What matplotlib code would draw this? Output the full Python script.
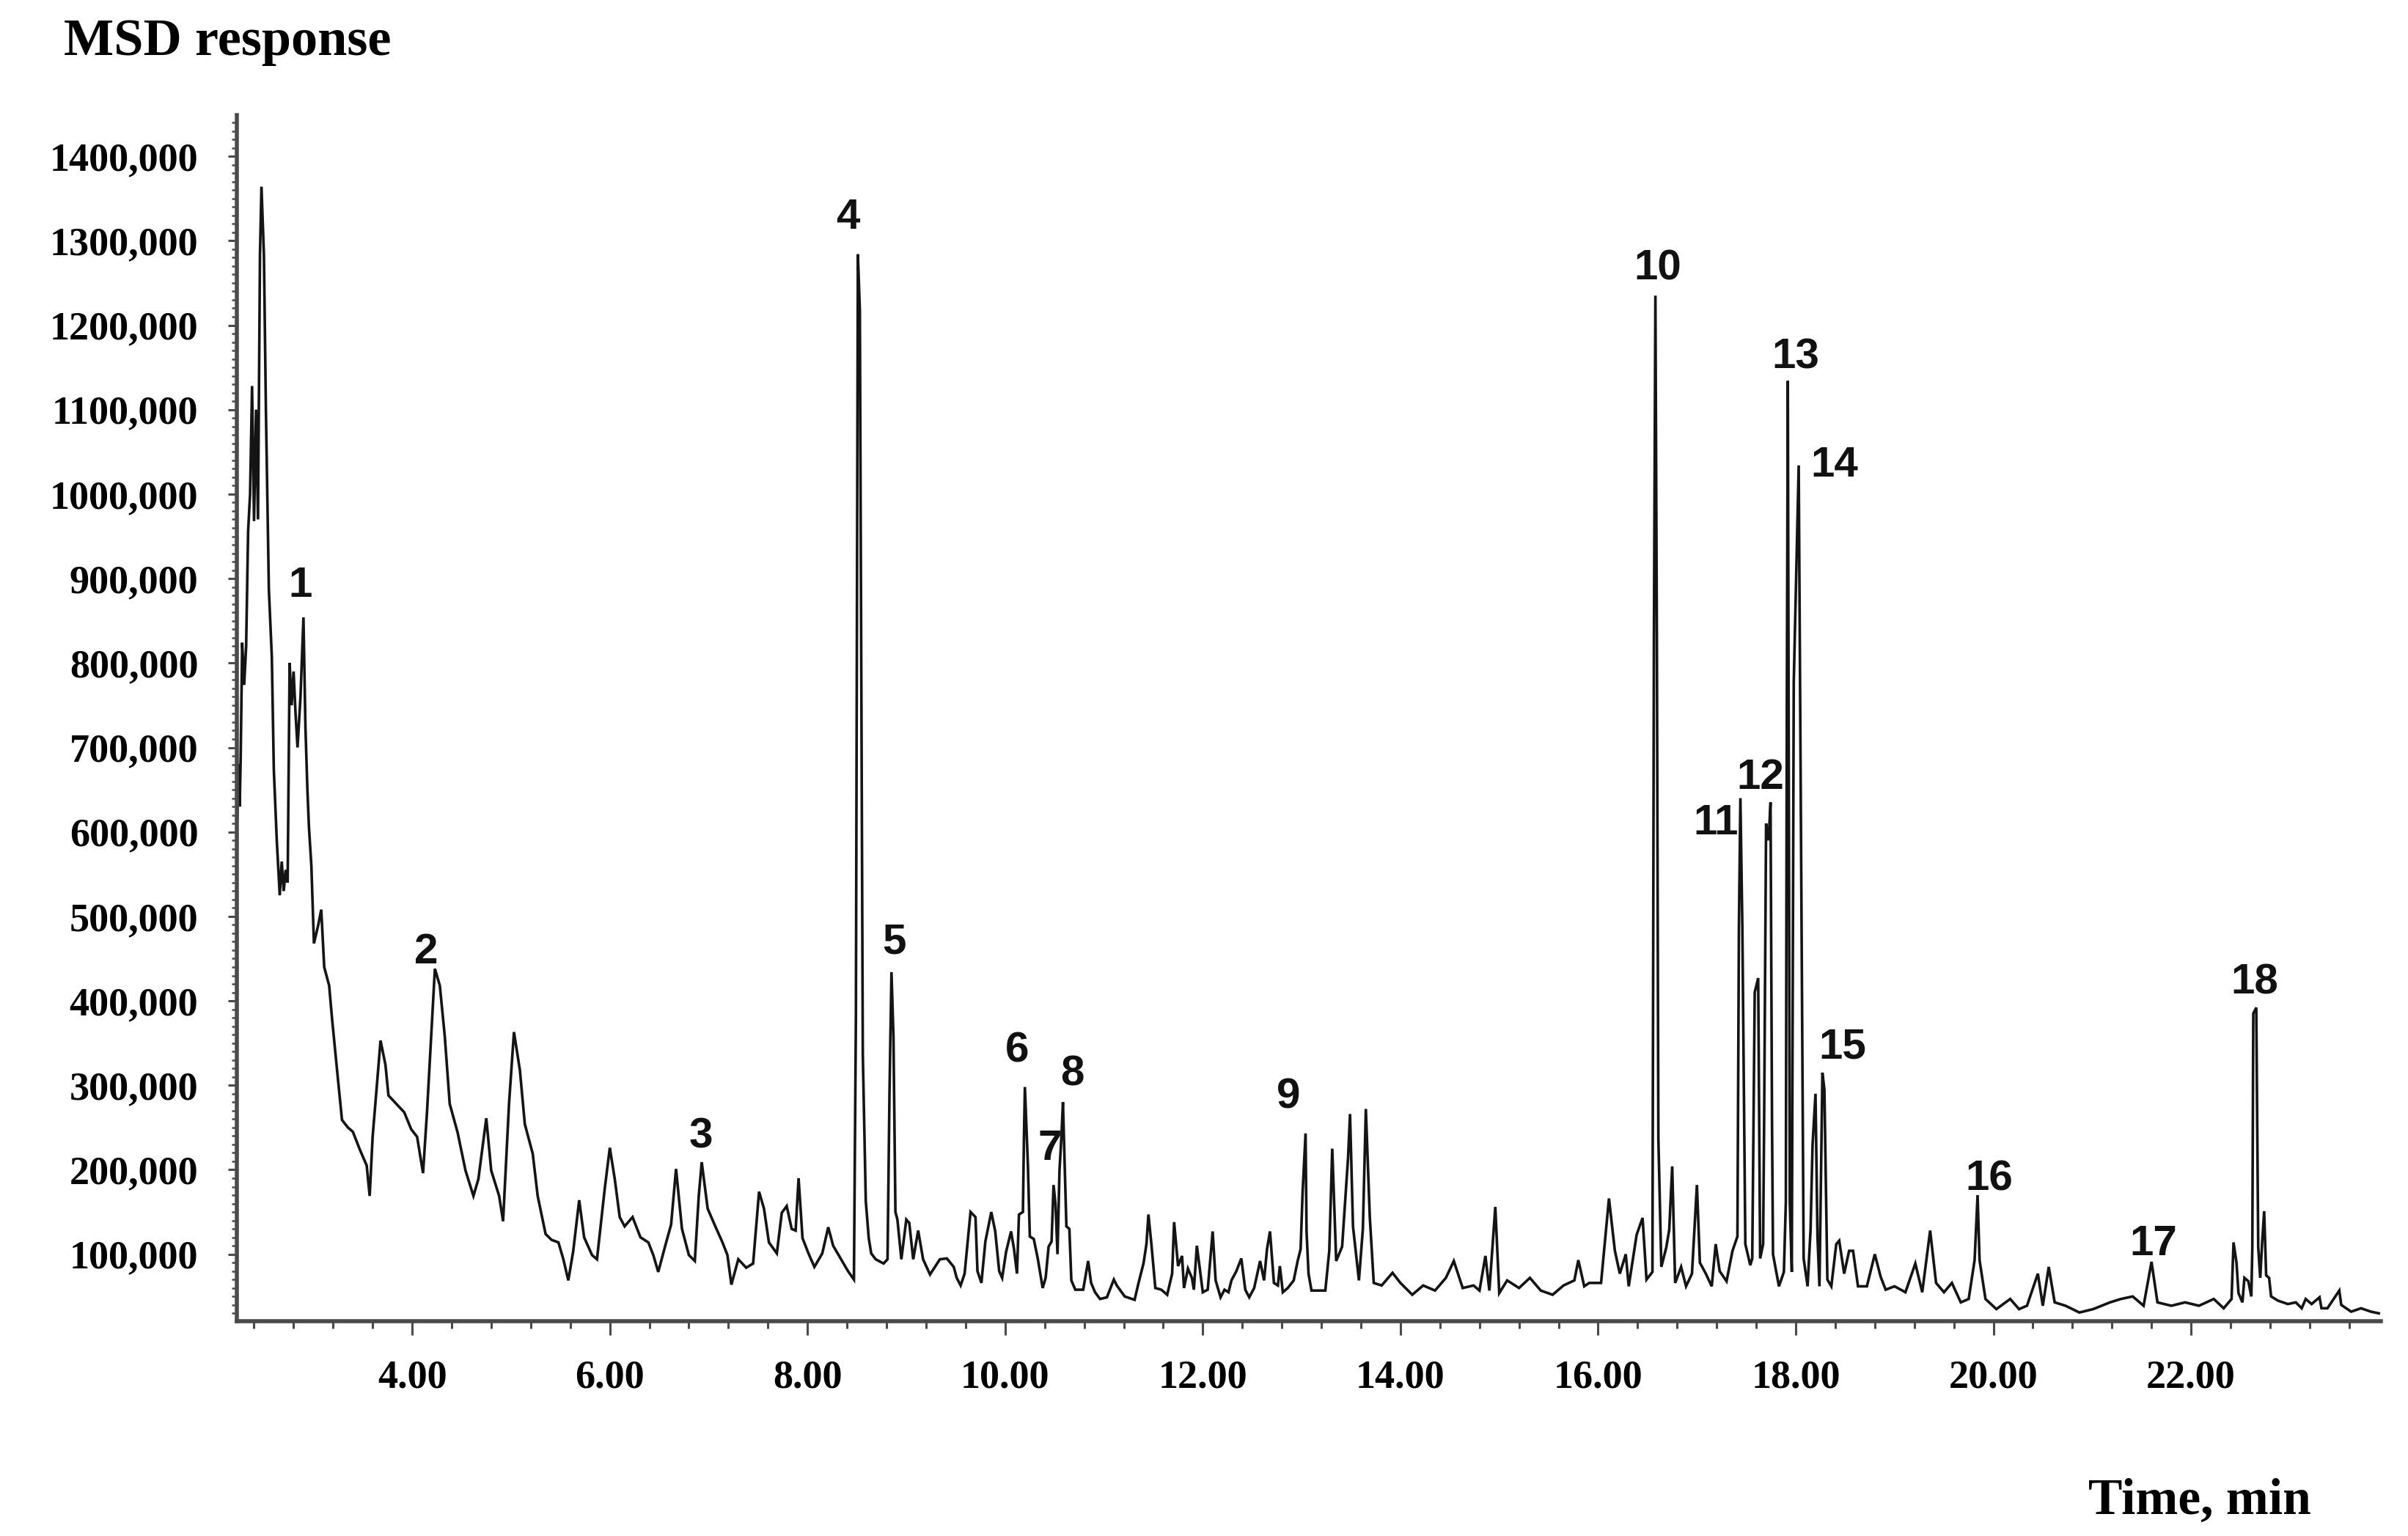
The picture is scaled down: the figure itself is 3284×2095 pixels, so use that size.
import matplotlib
matplotlib.use("Agg")
import matplotlib.pyplot as plt
from matplotlib.ticker import FixedLocator, MultipleLocator, FuncFormatter

# retention time (min) and detector response (thousands)
time_min = [
    2.23, 2.245, 2.255, 2.265, 2.28, 2.30, 2.32, 2.34, 2.36, 2.38, 2.40, 2.42, 2.44, 2.46, 2.475,
    2.50, 2.52, 2.55, 2.58, 2.60, 2.63, 2.66, 2.68, 2.70, 2.72, 2.74, 2.76, 2.78, 2.80, 2.82,
    2.84, 2.87, 2.90, 2.92, 2.94, 2.955, 2.98, 3.006, 3.05, 3.08, 3.11, 3.16, 3.19, 3.24, 3.29,
    3.35, 3.40, 3.47, 3.54, 3.57, 3.60, 3.68, 3.73, 3.76, 3.84, 3.92, 3.99, 4.05, 4.11, 4.15,
    4.19, 4.23, 4.28, 4.33, 4.38, 4.46, 4.54, 4.62, 4.67, 4.75, 4.80, 4.88, 4.92, 4.98, 5.03,
    5.09, 5.14, 5.22, 5.27, 5.35, 5.41, 5.48, 5.53, 5.58, 5.63, 5.69, 5.74, 5.82, 5.87, 5.95,
    6.00, 6.05, 6.10, 6.15, 6.23, 6.31, 6.39, 6.44, 6.49, 6.57, 6.62, 6.67, 6.73, 6.80, 6.86,
    6.90, 6.93, 6.99, 7.06, 7.14, 7.19, 7.23, 7.30, 7.38, 7.45, 7.51, 7.56, 7.61, 7.69, 7.74,
    7.79, 7.84, 7.88, 7.91, 7.95, 8.01, 8.07, 8.15, 8.21, 8.26, 8.34, 8.41, 8.47, 8.49, 8.51,
    8.53, 8.56, 8.59, 8.62, 8.645, 8.69, 8.77, 8.81, 8.83, 8.85, 8.87, 8.89, 8.91, 8.95, 9.00,
    9.03, 9.07, 9.12, 9.17, 9.24, 9.34, 9.41, 9.48, 9.51, 9.55, 9.59, 9.65, 9.70, 9.72, 9.76,
    9.80, 9.86, 9.90, 9.94, 9.97, 10.01, 10.06, 10.09, 10.12, 10.14, 10.18, 10.19, 10.20, 10.23, 10.25,
    10.29, 10.33, 10.38, 10.41, 10.44, 10.47, 10.49, 10.51, 10.53, 10.55, 10.57, 10.585, 10.60, 10.62, 10.65,
    10.67, 10.71, 10.79, 10.84, 10.87, 10.91, 10.96, 11.03, 11.10, 11.13, 11.21, 11.31, 11.35, 11.40, 11.43,
    11.45, 11.48, 11.52, 11.58, 11.64, 11.69, 11.71, 11.75, 11.79, 11.81, 11.85, 11.89, 11.91, 11.94, 11.96,
    12.00, 12.05, 12.10, 12.13, 12.18, 12.22, 12.26, 12.29, 12.34, 12.39, 12.43, 12.47, 12.52, 12.58, 12.62,
    12.65, 12.68, 12.72, 12.76, 12.78, 12.81, 12.86, 12.92, 12.96, 12.99, 13.01, 13.04, 13.05, 13.07, 13.10,
    13.24, 13.28, 13.31, 13.35, 13.41, 13.47, 13.49, 13.52, 13.58, 13.62, 13.65, 13.69, 13.73, 13.81, 13.92,
    14.00, 14.12, 14.23, 14.35, 14.46, 14.54, 14.63, 14.74, 14.80, 14.86, 14.90, 14.96, 15.00, 15.08, 15.20,
    15.31, 15.42, 15.54, 15.65, 15.76, 15.80, 15.86, 15.91, 16.03, 16.11, 16.17, 16.22, 16.28, 16.31, 16.39,
    16.45, 16.49, 16.55, 16.565, 16.58, 16.595, 16.61, 16.64, 16.69, 16.72, 16.75, 16.78, 16.84, 16.89, 16.95,
    17.00, 17.03, 17.09, 17.15, 17.19, 17.23, 17.30, 17.36, 17.41, 17.425, 17.44, 17.46, 17.49, 17.54, 17.56,
    17.585, 17.62, 17.64, 17.67, 17.68, 17.70, 17.725, 17.745, 17.76, 17.77, 17.83, 17.88, 17.90, 17.91, 17.92,
    17.94, 17.96, 17.98, 18.03, 18.06, 18.08, 18.12, 18.15, 18.17, 18.20, 18.22, 18.24, 18.27, 18.29, 18.32,
    18.36, 18.41, 18.44, 18.49, 18.54, 18.58, 18.63, 18.72, 18.80, 18.86, 18.91, 19.00, 19.11, 19.21, 19.28,
    19.36, 19.42, 19.50, 19.58, 19.67, 19.75, 19.81, 19.84, 19.86, 19.92, 20.03, 20.17, 20.26, 20.34, 20.45,
    20.50, 20.56, 20.62, 20.73, 20.87, 21.01, 21.18, 21.29, 21.41, 21.52, 21.60, 21.66, 21.80, 21.94, 22.08,
    22.23, 22.33, 22.41, 22.43, 22.46, 22.48, 22.52, 22.54, 22.58, 22.61, 22.62, 22.63, 22.66, 22.68, 22.70,
    22.72, 22.74, 22.76, 22.79, 22.81, 22.88, 22.98, 23.06, 23.12, 23.16, 23.22, 23.30, 23.32, 23.38, 23.50,
    23.52, 23.62, 23.72, 23.82, 23.90,
]
response_k = [
    615, 680, 630, 690, 824, 774, 820, 956, 1000, 1128, 968, 1100, 970, 1283, 1364,
    1283, 1100, 887, 807, 674, 590, 525, 565, 530, 555, 540, 800, 750, 790, 740,
    700, 760, 854, 724, 650, 607, 560, 468, 490, 508, 440, 418, 378, 318, 259,
    250, 245, 224, 205, 169, 239, 353, 324, 288, 278, 268, 248, 239, 196, 268,
    353, 438, 418, 358, 278, 244, 199, 169, 189, 261, 199, 169, 139, 278, 363,
    318, 254, 219, 169, 124, 117, 114, 94, 69, 104, 164, 120, 99, 94, 179,
    226, 189, 144, 133, 144, 120, 114, 99, 79, 114, 135, 201, 130, 99, 92,
    169, 209, 154, 135, 114, 99, 64, 94, 84, 89, 174, 154, 114, 101, 149,
    157, 130, 128, 190, 119, 101, 85, 101, 132, 110, 94, 80, 70, 380, 1284,
    1218, 336, 163, 119, 101, 94, 89, 94, 292, 434, 358, 150, 141, 94, 141,
    137, 94, 128, 94, 76, 94, 95, 85, 72, 63, 77, 150, 144, 80, 66,
    115, 150, 127, 80, 72, 103, 127, 106, 77, 147, 150, 234, 298, 207, 121,
    118, 95, 60, 72, 109, 115, 182, 159, 100, 199, 240, 280, 217, 133, 130,
    69, 58, 58, 92, 66, 55, 47, 49, 70, 63, 50, 46, 66, 89, 112,
    147, 112, 60, 58, 52, 77, 138, 86, 98, 60, 83, 72, 58, 110, 92,
    55, 58, 127, 69, 49, 58, 55, 69, 80, 95, 58, 49, 60, 92, 69,
    106, 127, 66, 63, 86, 55, 60, 69, 92, 106, 173, 243, 127, 77, 57,
    57, 104, 225, 92, 109, 214, 266, 133, 69, 130, 272, 144, 66, 63, 78,
    66, 52, 63, 57, 72, 92, 60, 63, 57, 98, 57, 156, 54, 69, 60,
    72, 57, 52, 63, 69, 93, 62, 66, 66, 166, 104, 77, 100, 62, 123,
    143, 70, 79, 826, 1235, 826, 237, 85, 108, 129, 204, 66, 85, 62, 77,
    182, 90, 77, 62, 112, 80, 68, 104, 121, 486, 640, 486, 112, 87, 95,
    410, 427, 95, 112, 255, 610, 590, 635, 255, 100, 62, 79, 162, 757, 1134,
    162, 79, 777, 1034, 477, 95, 62, 129, 229, 290, 121, 62, 315, 295, 70,
    62, 112, 116, 77, 104, 104, 62, 62, 100, 73, 58, 62, 55, 89, 55,
    128, 66, 55, 66, 43, 47, 93, 170, 93, 47, 35, 47, 35, 39, 77,
    39, 85, 43, 39, 31, 35, 43, 47, 50, 39, 91, 43, 39, 43, 39,
    47, 36, 47, 114, 90, 54, 43, 72, 68, 50, 107, 385, 392, 108, 72,
    115, 151, 75, 72, 50, 45, 41, 43, 36, 47, 41, 49, 36, 36, 57,
    40, 32, 36, 32, 30,
]

# numbered compounds and where their numbers sit (time, response in thousands)
peak_labels = ["1", "2", "3", "4", "5", "6", "7", "8", "9",
               "10", "11", "12", "13", "14", "15", "16", "17", "18"]
label_time = [2.87, 4.14, 6.92, 8.41, 8.88, 10.12, 10.45, 10.68, 12.87,
              16.60, 17.19, 17.64, 18.00, 18.39, 18.47, 19.96, 21.62, 22.64]
label_resp_k = [891, 457, 239, 1327, 469, 341, 225, 313, 286,
                1267, 610, 664, 1162, 1034, 345, 189, 112, 421]

x_major = [4, 6, 8, 10, 12, 14, 16, 18, 20, 22]
y_major_k = [100, 200, 300, 400, 500, 600, 700, 800, 900, 1000, 1100, 1200, 1300, 1400]

serif = ["Liberation Serif", "DejaVu Serif"]
sans = ["Liberation Sans", "DejaVu Sans"]
axis_grey = "#4a4a4a"

fig = plt.figure(figsize=(16.42, 10.475), dpi=200)
ax = fig.add_axes([0.0984, 0.1399, 0.8903, 0.7852])

resp = [v * 1000 for v in response_k]
ax.plot(time_min, resp, color="#141414", lw=1.3, solid_joinstyle="miter")

for lab, t, v in zip(peak_labels, label_time, label_resp_k):
    ax.text(t, v * 1000, lab, ha="center", va="center", fontsize=21,
            fontweight="bold", family=sans, color="#111111")

ax.set_xlim(2.227, 23.92)
ax.set_ylim(20800, 1448800)

for side in ("top", "right"):
    ax.spines[side].set_visible(False)
for side in ("left", "bottom"):
    ax.spines[side].set_color(axis_grey)
    ax.spines[side].set_linewidth(2.0)

ax.xaxis.set_major_locator(FixedLocator(x_major))
ax.xaxis.set_minor_locator(MultipleLocator(0.4))
ax.xaxis.set_major_formatter(FuncFormatter(lambda t, _: f"{t:.2f}"))
ax.yaxis.set_major_locator(FixedLocator([v * 1000 for v in y_major_k]))
ax.yaxis.set_minor_locator(MultipleLocator(10000))
ax.yaxis.set_major_formatter(FuncFormatter(lambda v, _: f"{int(round(v / 1000))},000"))

ax.tick_params(axis="x", which="major", direction="out", length=7, width=1.1,
               color=axis_grey, pad=12, labelsize=19.5)
ax.tick_params(axis="x", which="minor", direction="out", length=3.5, width=1.1,
               color=axis_grey)
ax.tick_params(axis="y", which="major", direction="out", length=4.5, width=1.1,
               color=axis_grey, pad=14.5, labelsize=19.5)
ax.tick_params(axis="y", which="minor", direction="out", length=2.5, width=0.9,
               color=axis_grey)
for lbl in ax.get_xticklabels() + ax.get_yticklabels():
    lbl.set_family(serif)
    lbl.set_fontweight("bold")

fig.text(0.0265, 0.9642, "MSD response", ha="left", va="baseline",
         fontsize=26, fontweight="bold", family=serif)
fig.text(0.8672, 0.0143, "Time, min", ha="left", va="baseline",
         fontsize=25, fontweight="bold", family=serif)

fig.savefig("out.png", dpi=200, facecolor="white")
